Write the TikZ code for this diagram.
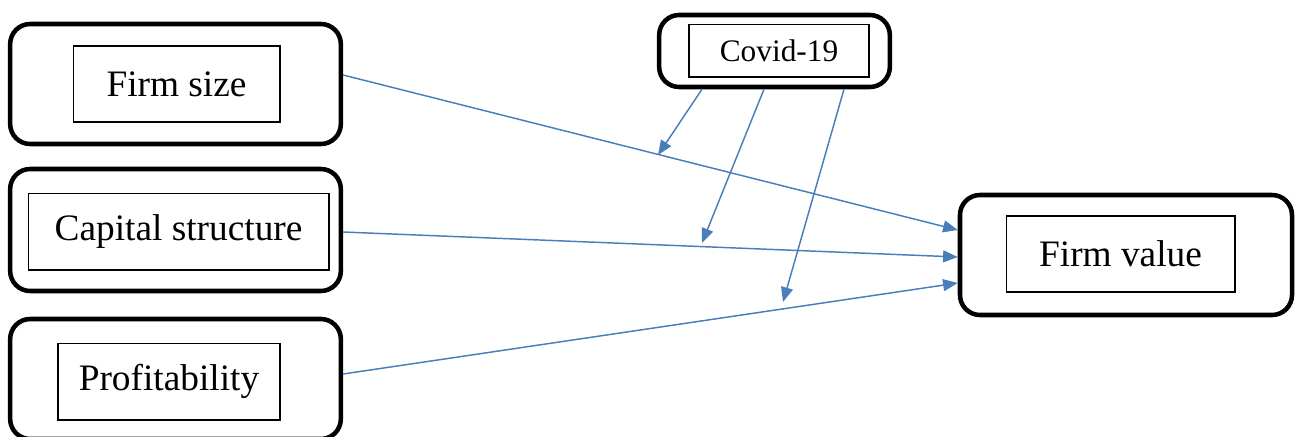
\documentclass[tikz,border=0pt]{standalone}
\usepackage{fontspec}
\setmainfont{Liberation Serif}
\usetikzlibrary{arrows.meta}
\definecolor{arrblue}{RGB}{74,126,187}
\begin{document}
\begin{tikzpicture}[x=0.75pt,y=-0.75pt,
  outerbox/.style={draw=black,line width=3.4pt,rounded corners=15pt,inner sep=0pt},
  innerbox/.style={draw=black,line width=1pt,inner sep=0pt,font=\fontsize{28}{30}\selectfont},
  arr/.style={draw=arrblue,line width=1.1pt,-{Triangle[length=11pt,width=9pt]}}]
\useasboundingbox (0,0) rectangle (1298,436);
% outer boxes
\node[outerbox,minimum width=248pt,minimum height=90pt] (fso) at (175.5,84) {};
\node[outerbox,minimum width=248pt,minimum height=91.5pt] (cso) at (175.5,230) {};
\node[outerbox,minimum width=248pt,minimum height=90pt] (pro) at (175.5,379) {};
\node[outerbox,minimum width=173pt,minimum height=54pt] (cvo) at (774.5,51) {};
\node[outerbox,minimum width=249pt,minimum height=90pt] (fvo) at (1126,255) {};
% inner boxes
\node[innerbox,minimum width=155pt,minimum height=57pt] (fs) at (176.5,84) {Firm size};
\node[innerbox,minimum width=225.5pt,minimum height=57.5pt] (cs) at (178.5,231.5) {Capital structure};
\node[innerbox,minimum width=166.5pt,minimum height=57.5pt] (pr) at (169,381.5) {Profitability};
\node[innerbox,minimum width=135pt,minimum height=39.5pt,font=\fontsize{23.5}{26}\selectfont] (cv) at (779,50.5) {Covid-19};
\node[innerbox,minimum width=171.5pt,minimum height=57pt] (fv) at (1120.5,254) {Firm value};
% main arrows
\draw[arr] ([yshift=6.75pt]fso.east) -- ([yshift=18.75pt]fvo.west);
\draw[arr] ([yshift=-1.5pt]cso.east) -- ([yshift=-1.5pt]fvo.west);
\draw[arr] ([yshift=3.75pt]pro.east) -- ([yshift=-21pt]fvo.west);
% moderating arrows
\coordinate (m1) at (658,155);
\coordinate (m2) at (702,243);
\coordinate (m3) at (783,302);
\draw[arr] ([xshift=-54.4pt]cvo.south) -- (m1);
\draw[arr] ([xshift=-7.9pt]cvo.south) -- (m2);
\draw[arr] ([xshift=52.1pt]cvo.south) -- (m3);
\end{tikzpicture}
\end{document}
